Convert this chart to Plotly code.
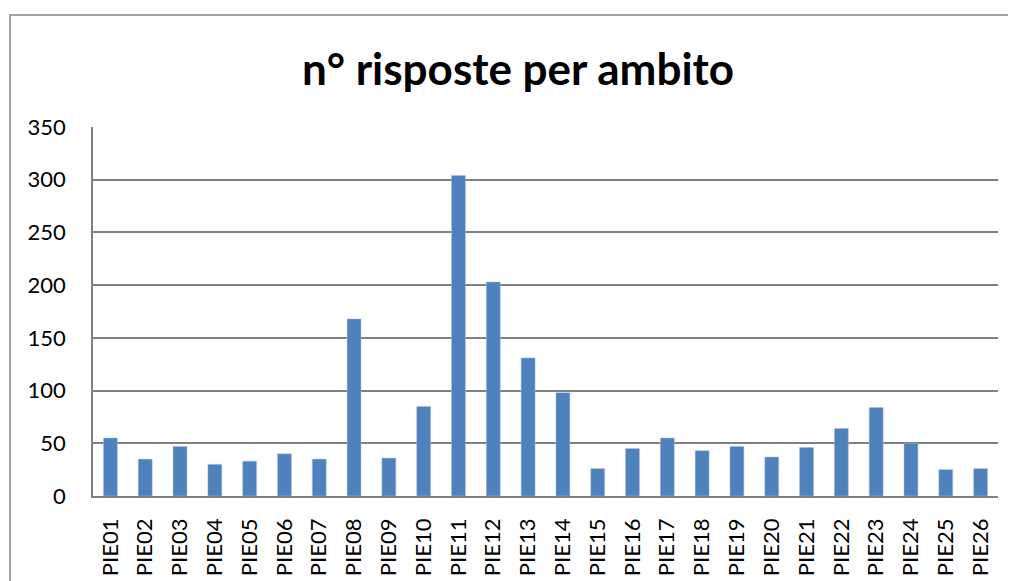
import plotly.graph_objects as go

# ambiti e numero di risposte
ambiti = ["PIE%02d" % i for i in range(1, 27)]
risposte = [55, 35, 47, 30, 33, 40, 35, 168, 36, 85,
            304, 203, 131, 98, 26, 45, 55, 43, 47, 37,
            46, 64, 84, 50, 25, 26]
y_ticks = [0, 50, 100, 150, 200, 250, 300, 350]

# la pagina html aggiunge 8px di margine al body
W, H = 1008, 573

fig = go.Figure()
fig.add_trace(go.Bar(
    x=ambiti, y=risposte,
    marker=dict(color="#4F81BD", line=dict(color="#A7C0E0", width=0.5)),
))

fig.update_layout(
    width=W, height=H,
    margin=dict(l=85, r=18, t=119, b=85),
    paper_bgcolor="white", plot_bgcolor="white",
    bargap=0.6,
    showlegend=False,
    font=dict(family="Lato, Calibri, sans-serif", size=22, color="black"),
    title=dict(text="<b>n° risposte per ambito</b>", x=510 / W, xanchor="center",
               xref="container", yref="container",
               y=1 - 62 / H, yanchor="middle",
               font=dict(family="Lato, Calibri, sans-serif", size=44, color="black")),
)
fig.update_yaxes(range=[0, 350], tickvals=y_ticks, showgrid=True,
                 gridcolor="#808080", gridwidth=1.5, showline=True,
                 linecolor="#808080", linewidth=1.5, ticks="", ticklabelstandoff=21,
                 zeroline=False, automargin=False)
fig.update_xaxes(tickangle=-90, showline=True, linecolor="#808080", linewidth=1.5,
                 ticks="", ticklabelstandoff=12, showgrid=False, automargin=False)

# cornice esterna del grafico
fig.add_shape(type="rect", xref="paper", yref="paper",
              x0=-0.0917, x1=1.05, y0=-0.3, y1=1.3035,
              line=dict(color="#868686", width=1.5), layer="below")

fig.write_html("out.html")
